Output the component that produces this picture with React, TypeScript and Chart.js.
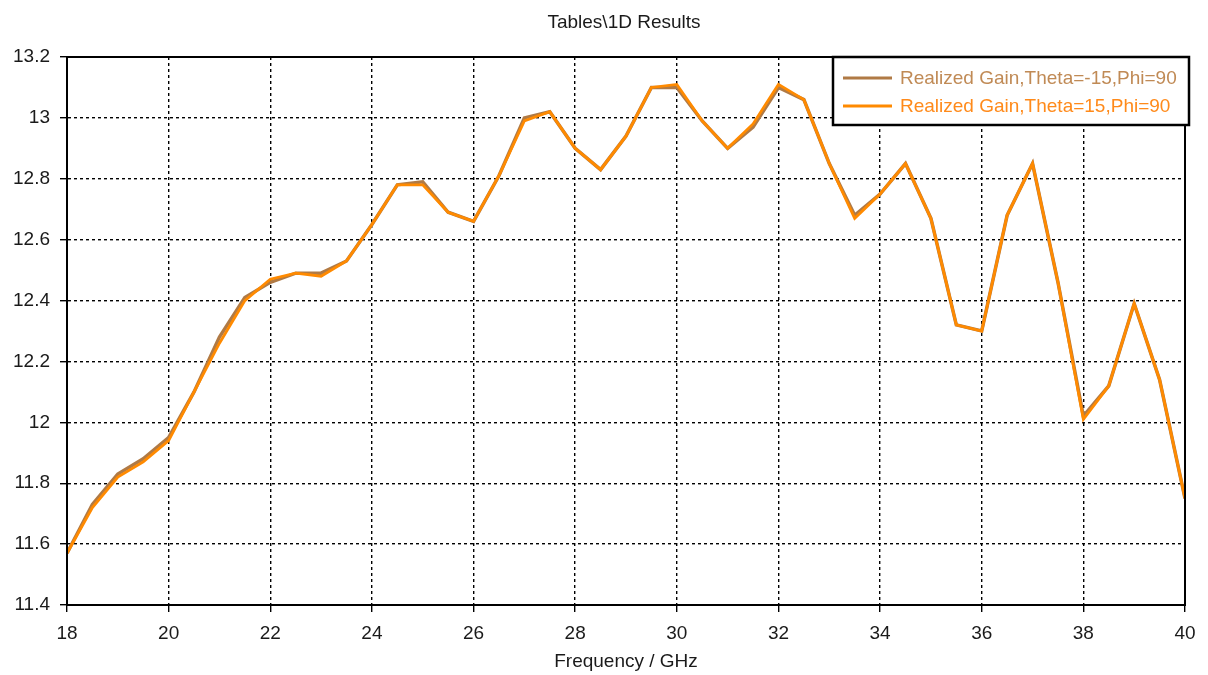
import React, { useEffect, useRef } from "react";
import { Chart, registerables } from "chart.js";

Chart.register(...registerables);

const titleText = "Tables\\1D Results";
const xAxisTitle = "Frequency / GHz";
const seriesNames = ["Realized Gain,Theta=-15,Phi=90", "Realized Gain,Theta=15,Phi=90"];

const freqs = [
  18, 18.5, 19, 19.5, 20, 20.5, 21, 21.5, 22, 22.5, 23, 23.5, 24, 24.5, 25, 25.5,
  26, 26.5, 27, 27.5, 28, 28.5, 29, 29.5, 30, 30.5, 31, 31.5, 32, 32.5, 33, 33.5,
  34, 34.5, 35, 35.5, 36, 36.5, 37, 37.5, 38, 38.5, 39, 39.5, 40,
];

const gainThetaMinus15 = [
  11.57, 11.73, 11.83, 11.88, 11.95, 12.1, 12.28, 12.41, 12.46, 12.49, 12.49, 12.53,
  12.65, 12.78, 12.79, 12.69, 12.66, 12.81, 13.0, 13.02, 12.9, 12.83, 12.94, 13.1,
  13.1, 12.99, 12.9, 12.97, 13.1, 13.06, 12.85, 12.68, 12.75, 12.85, 12.67, 12.32,
  12.3, 12.68, 12.85, 12.46, 12.02, 12.12, 12.39, 12.14, 11.75,
];

const gainTheta15 = [
  11.57, 11.72, 11.82, 11.87, 11.94, 12.1, 12.26, 12.4, 12.47, 12.49, 12.48, 12.53,
  12.65, 12.78, 12.78, 12.69, 12.66, 12.81, 12.99, 13.02, 12.9, 12.83, 12.94, 13.1,
  13.11, 12.99, 12.9, 12.98, 13.11, 13.06, 12.85, 12.67, 12.75, 12.85, 12.67, 12.32,
  12.3, 12.68, 12.85, 12.46, 12.01, 12.12, 12.39, 12.14, 11.75,
];

const colors = ["#b07a45", "#ff8a00"];
const legendTextColors = ["#c08a55", "#ff8a1a"];
const FONT = "'Liberation Sans', Arial, sans-serif";
const TEXT = "#1a1a1a";

export default function App() {
  const ref = useRef<HTMLCanvasElement>(null);

  useEffect(() => {
    document.body.style.margin = "0";
    const canvas = ref.current!;
    const overlay = {
      id: "overlay",
      afterDraw(chart: any) {
        const ctx = chart.ctx;
        const a = chart.chartArea;
        ctx.save();
        // frame
        ctx.strokeStyle = "#000";
        ctx.lineWidth = 2;
        ctx.setLineDash([]);
        ctx.strokeRect(a.left, a.top, a.right - a.left, a.bottom - a.top);
        // title
        ctx.fillStyle = TEXT;
        ctx.font = `19px ${FONT}`;
        ctx.textAlign = "center";
        ctx.textBaseline = "middle";
        ctx.fillText(titleText, 624, 23);
        // legend
        const lx = a.right - 352;
        const ly = a.top;
        const lw = 356;
        const lh = 68;
        ctx.fillStyle = "#fff";
        ctx.fillRect(lx, ly, lw, lh);
        ctx.strokeStyle = "#000";
        ctx.lineWidth = 2.5;
        ctx.strokeRect(lx, ly, lw, lh);
        ctx.font = `19px ${FONT}`;
        ctx.textAlign = "left";
        seriesNames.forEach((name, i) => {
          const y = ly + 21 + i * 28;
          ctx.strokeStyle = colors[i];
          ctx.lineWidth = 3;
          ctx.beginPath();
          ctx.moveTo(lx + 10, y);
          ctx.lineTo(lx + 59, y);
          ctx.stroke();
          ctx.fillStyle = legendTextColors[i];
          ctx.fillText(name, lx + 67, y + 1);
        });
        ctx.restore();
      },
    };

    const chart = new Chart(canvas, {
      type: "line",
      data: {
        datasets: [
          {
            label: seriesNames[0],
            data: freqs.map((f, i) => ({ x: f, y: gainThetaMinus15[i] })),
            borderColor: colors[0],
            borderWidth: 3.5,
            pointRadius: 0,
            tension: 0,
            order: 1,
          },
          {
            label: seriesNames[1],
            data: freqs.map((f, i) => ({ x: f, y: gainTheta15[i] })),
            borderColor: colors[1],
            borderWidth: 2.8,
            pointRadius: 0,
            tension: 0,
            order: 0,
          },
        ],
      },
      options: {
        animation: false,
        responsive: false,
        layout: { padding: { top: 57, right: 23, left: 0, bottom: 0 } },
        plugins: { legend: { display: false }, title: { display: false }, tooltip: { enabled: false } },
        scales: {
          x: {
            type: "linear",
            min: 18,
            max: 40,
            afterFit: (s: any) => {
              s.height = 70;
            },
            ticks: {
              stepSize: 2,
              color: TEXT,
              font: { family: FONT, size: 19 },
              padding: 10,
              maxRotation: 0,
            },
            grid: {
              color: "#000",
              lineWidth: 1.4,
              tickLength: 7,
              tickColor: "#000",
              tickBorderDash: [],
            },
            border: { display: true, color: "#000", width: 2, dash: [3, 3] },
            title: {
              display: true,
              text: xAxisTitle,
              color: TEXT,
              font: { family: FONT, size: 19 },
              padding: { top: 2, bottom: 2 },
            },
          },
          y: {
            min: 11.4,
            max: 13.2,
            afterFit: (s: any) => {
              s.width = 67;
            },
            ticks: {
              stepSize: 0.2,
              color: TEXT,
              font: { family: FONT, size: 19 },
              padding: 10,
              callback: (v: any) => String(Number(Number(v).toFixed(1))),
            },
            grid: {
              color: "#000",
              lineWidth: 1.4,
              tickLength: 7,
              tickColor: "#000",
              tickBorderDash: [],
            },
            border: { display: true, color: "#000", width: 2, dash: [3, 3] },
          },
        },
      },
      plugins: [overlay],
    } as any);
    return () => chart.destroy();
  }, []);

  return <canvas ref={ref} width={1208} height={675} style={{ display: "block" }} />;
}
